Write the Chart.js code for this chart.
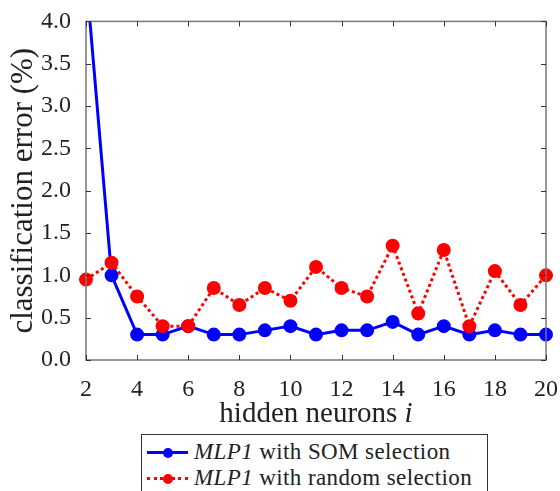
<!DOCTYPE html>
<html>
<head>
<meta charset="utf-8">
<script src="https://cdn.jsdelivr.net/npm/chart.js@4"></script>
<style>
  body { margin: 0; background: #fff; }
  #wrap { position: relative; width: 560px; height: 491px; overflow: hidden; }
  #chart { position: absolute; left: 0; top: 0; }
  #legend {
    position: absolute; left: 141px; top: 434px; width: 347px; height: 70px;
    border: 1px solid #333; background: #fff; box-sizing: border-box;
    font-family: "Liberation Serif", serif; font-size: 23px; letter-spacing: 0.4px; color: #222;
  }
  .row { position: absolute; left: 0; height: 26px; line-height: 26px; white-space: nowrap; }
  .sample { position: absolute; left: 5px; top: 12px; width: 41px; height: 0; }
  .dot { position: absolute; left: 16px; top: -6px; width: 10px; height: 10px; border-radius: 50%; }
  .txt { position: absolute; left: 52px; top: 0; }
</style>
</head>
<body>
<div id="wrap">
  <canvas id="chart" width="560" height="491"></canvas>
  <div id="legend">
    <div class="row" style="top:4px">
      <div class="sample" style="border-top:3px solid #0000ff"><div class="dot" style="background:#0000ff"></div></div>
      <span class="txt"><i>MLP1</i> with SOM selection</span>
    </div>
    <div class="row" style="top:30px">
      <div class="sample" style="border-top:3px dotted #ff0000"><div class="dot" style="background:#ff0000"></div></div>
      <span class="txt"><i>MLP1</i> with random selection</span>
    </div>
  </div>
</div>
<script>
const neurons = [2, 3, 4, 5, 6, 7, 8, 9, 10, 11, 12, 13, 14, 15, 16, 17, 18, 19, 20];
const somError = [4.55, 1.0, 0.3, 0.3, 0.4, 0.3, 0.3, 0.35, 0.4, 0.3, 0.35, 0.35, 0.45, 0.3, 0.4, 0.3, 0.35, 0.3, 0.3];
const randomError = [0.95, 1.15, 0.75, 0.4, 0.4, 0.85, 0.65, 0.85, 0.7, 1.1, 0.85, 0.75, 1.35, 0.55, 1.3, 0.4, 1.05, 0.65, 1.0];
const xTicks = [2, 4, 6, 8, 10, 12, 14, 16, 18, 20];
const yTicks = [0, 0.5, 1, 1.5, 2, 2.5, 3, 3.5, 4];

const serif = "Liberation Serif";

// box around the axes with inward ticks on all four sides, plus x title with italic i
const boxTicks = {
    id: 'boxTicks',
    afterDraw(chart) {
        const {ctx, chartArea: a, scales} = chart;
        ctx.save();
        ctx.strokeStyle = '#777';
        ctx.lineWidth = 1.5;
        ctx.strokeRect(a.left, a.top, a.right - a.left, a.bottom - a.top);
        ctx.strokeStyle = '#333';
        ctx.lineWidth = 1;
        ctx.beginPath();
        xTicks.forEach(v => {
            const px = Math.round(scales.x.getPixelForValue(v)) + 0.5;
            ctx.moveTo(px, a.bottom); ctx.lineTo(px, a.bottom - 5);
            ctx.moveTo(px, a.top); ctx.lineTo(px, a.top + 5);
        });
        yTicks.forEach(v => {
            const py = Math.round(scales.y.getPixelForValue(v)) + 0.5;
            ctx.moveTo(a.left, py); ctx.lineTo(a.left + 5, py);
            ctx.moveTo(a.right, py); ctx.lineTo(a.right - 5, py);
        });
        ctx.stroke();

        // x axis title
        const t1 = 'hidden neurons ', t2 = 'i';
        const f1 = '29px "' + serif + '"', f2 = 'italic 29px "' + serif + '"';
        ctx.font = f1; const w1 = ctx.measureText(t1).width;
        ctx.font = f2; const w2 = ctx.measureText(t2).width;
        const cx = (a.left + a.right) / 2, x0 = cx - (w1 + w2) / 2, ty = 414;
        ctx.fillStyle = '#222';
        ctx.textBaseline = 'middle';
        ctx.textAlign = 'left';
        ctx.font = f1; ctx.fillText(t1, x0, ty);
        ctx.font = f2; ctx.fillText(t2, x0 + w1, ty);
        ctx.restore();
    }
};

new Chart(document.getElementById('chart'), {
    type: 'line',
    data: {
        labels: neurons,
        datasets: [
            {
                label: 'MLP1 with random selection',
                data: neurons.map((n, i) => ({x: n, y: randomError[i]})),
                borderColor: '#ff0000',
                backgroundColor: '#ff0000',
                borderWidth: 3,
                borderDash: [3, 3],
                pointRadius: 5.5,
                pointHoverRadius: 5.5,
                clip: {left: 10, right: 10, top: 0, bottom: 10},
            },
            {
                label: 'MLP1 with SOM selection',
                data: neurons.map((n, i) => ({x: n, y: somError[i]})),
                borderColor: '#0000ff',
                backgroundColor: '#0000ff',
                borderWidth: 3,
                pointRadius: 5.5,
                pointHoverRadius: 5.5,
                clip: {left: 10, right: 10, top: 0, bottom: 10},
            },
        ]
    },
    options: {
        responsive: false,
        animation: false,
        layout: {padding: {left: 0, right: 0, top: 20, bottom: 61}},
        plugins: {legend: {display: false}, tooltip: {enabled: false}},
        scales: {
            x: {
                type: 'linear',
                min: 2, max: 20,
                afterBuildTicks: s => { s.ticks = xTicks.map(v => ({value: v})); },
                afterFit: s => { s.height = 70; s.paddingRight = 14; s.paddingLeft = 0; },
                grid: {display: false},
                border: {display: false},
                ticks: {color: '#222', font: {family: serif, size: 24}, padding: 7, maxRotation: 0},
            },
            y: {
                min: 0, max: 4,
                afterBuildTicks: s => { s.ticks = yTicks.map(v => ({value: v})); },
                afterFit: s => { s.width = 86; },
                grid: {display: false},
                border: {display: false},
                ticks: {color: '#222', font: {family: serif, size: 24}, padding: 7, callback: v => v.toFixed(1)},
                title: {
                    display: true, text: 'classification error (%)', color: '#222',
                    font: {family: serif, size: 31}, padding: {top: 5, bottom: 0}
                }
            }
        }
    },
    plugins: [boxTicks]
});
</script>
</body>
</html>
